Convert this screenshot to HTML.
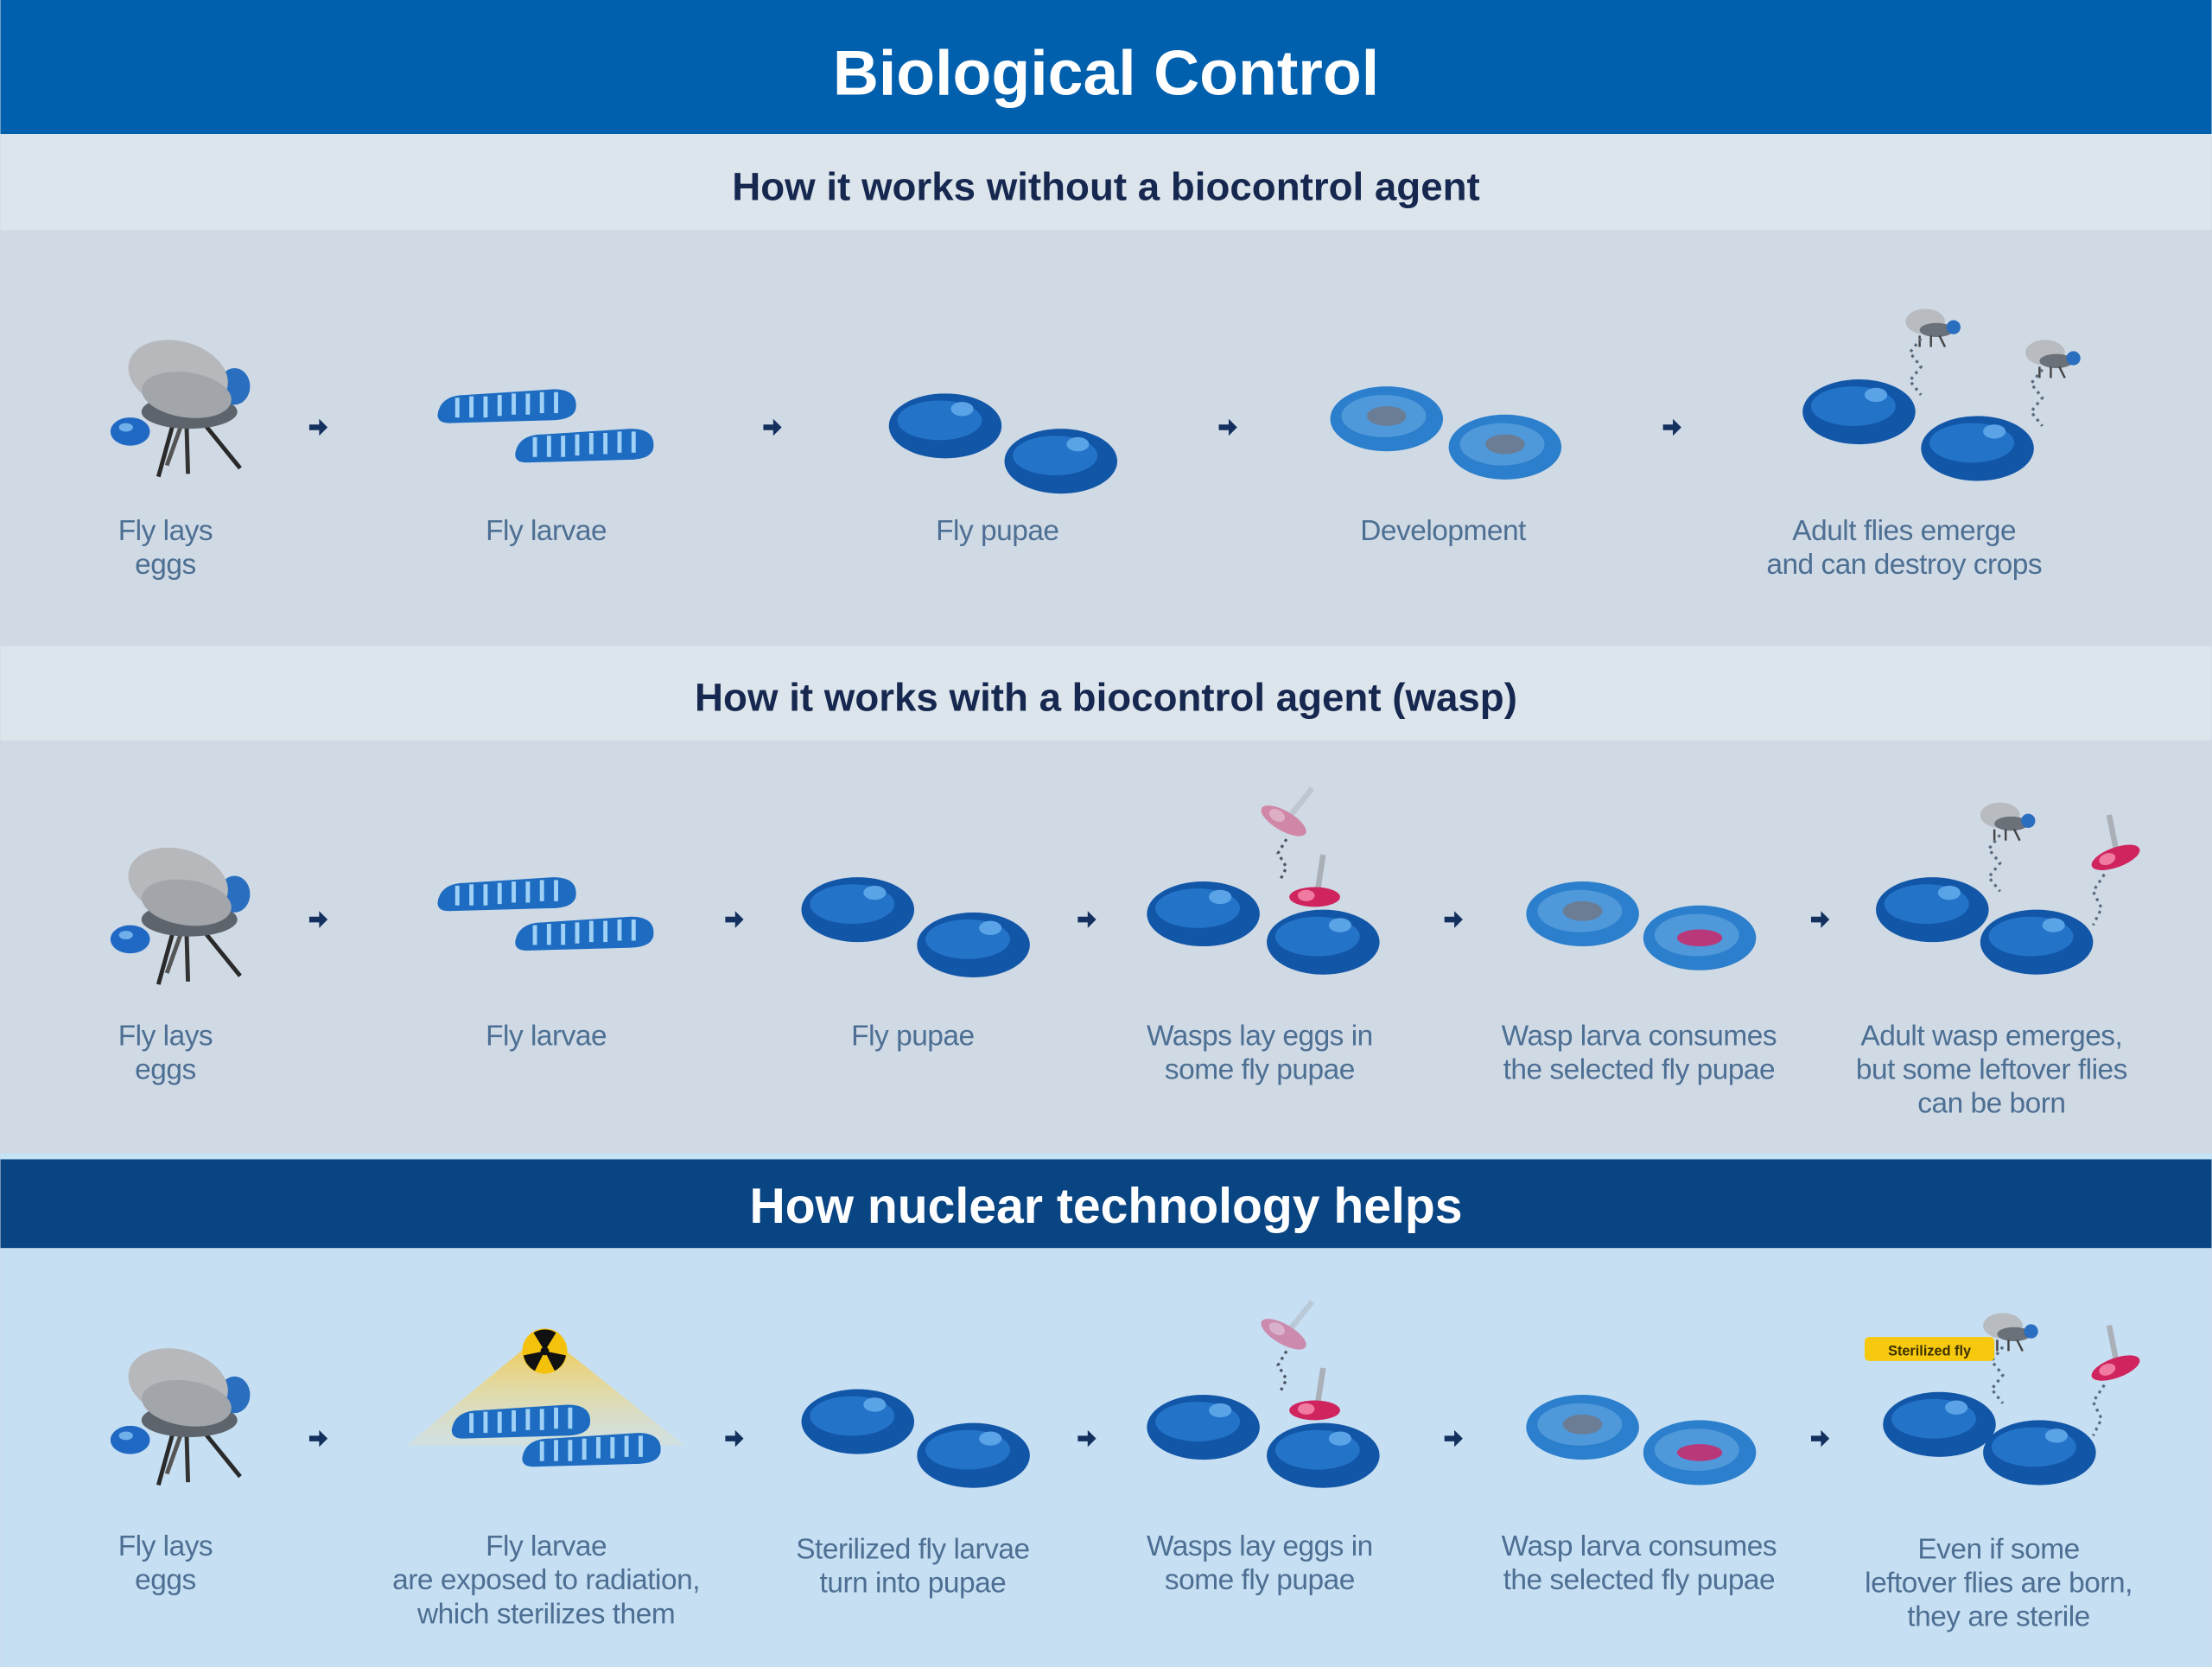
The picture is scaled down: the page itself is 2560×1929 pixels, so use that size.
<!DOCTYPE html>
<html><head><meta charset="utf-8"><style>
html,body{margin:0;padding:0;width:2560px;height:1929px;overflow:hidden;background:#d0dae5}
svg{display:block}
text{font-family:"Liberation Sans",sans-serif}
.lab{font-size:20.5px;fill:#4d6f93;text-anchor:middle;letter-spacing:-0.3px}
.sub{font-size:28px;font-weight:bold;fill:#16284f;text-anchor:middle}
</style></head><body>
<svg width="2560" height="1929" viewBox="0 0 1568 1182" xmlns="http://www.w3.org/2000/svg">
<defs>
<linearGradient id="rad" x1="0" y1="0" x2="0" y2="1"><stop offset="0" stop-color="#f5c638" stop-opacity="0.95"/><stop offset="1" stop-color="#f5e3a0" stop-opacity="0.2"/></linearGradient>
<g id="fly">
 <line x1="-8" y1="12" x2="-18" y2="48" stroke="#2a2a2a" stroke-width="3"/>
 <line x1="2" y1="12" x2="3" y2="46" stroke="#333" stroke-width="3"/>
 <line x1="14" y1="10" x2="40" y2="42" stroke="#2a2a2a" stroke-width="3"/>
 <line x1="-2" y1="12" x2="-12" y2="40" stroke="#555" stroke-width="3"/>
 <ellipse cx="4" cy="2" rx="34" ry="12" fill="#5d646c"/>
 <ellipse cx="36" cy="-16" rx="11" ry="13" fill="#2a6fbf"/>
 <ellipse cx="-4" cy="-24" rx="36" ry="24" fill="#b6b8bb" transform="rotate(15 -4 -24)"/>
 <ellipse cx="2" cy="-10" rx="32" ry="16" fill="#a2a5aa" transform="rotate(8 2 -10)"/>
 <ellipse cx="-38" cy="16" rx="14" ry="10" fill="#1f68c4"/>
 <ellipse cx="-41" cy="13" rx="5" ry="3" fill="#6fb0ea"/>
</g>
<g id="larva">
 <path d="M0 18 Q2 4 20 4 L82 0 Q100 0 98 14 Q96 22 80 22 L8 24 Q0 24 0 18Z" fill="#1d6cc2"/>
 <path d="M14 6v14M24 5v15M34 5v15M44 4v15M54 3v15M64 3v15M74 2v15M84 2v15" stroke="#9fd0f5" stroke-width="3"/>
</g>
<g id="pupa"><ellipse cx="0" cy="0" rx="40" ry="23" fill="#1256a8"/><ellipse cx="-4" cy="-4" rx="30" ry="14" fill="#2374c9"/><ellipse cx="12" cy="-12" rx="8" ry="5" fill="#5aa3e6"/></g>
<g id="pupaL"><ellipse cx="0" cy="0" rx="40" ry="23" fill="#2b7fcc"/><ellipse cx="-2" cy="-2" rx="30" ry="15" fill="#4f98da"/><ellipse cx="0" cy="-2" rx="14" ry="7" fill="#6a7d95"/></g>
<g id="pupaW"><ellipse cx="0" cy="0" rx="40" ry="23" fill="#2b7fcc"/><ellipse cx="-2" cy="-2" rx="30" ry="15" fill="#4f98da"/><ellipse cx="0" cy="0" rx="16" ry="6" fill="#b8387a"/></g>
<g id="mini"><ellipse cx="0" cy="0" rx="14" ry="9" fill="#b8bbbf"/><ellipse cx="8" cy="6" rx="12" ry="5" fill="#6b7178"/><circle cx="20" cy="4" r="5" fill="#2a6fbf"/><path d="M-4 10v8M4 10v8M10 10l4 8" stroke="#444" stroke-width="1.5"/></g>
<g id="wasp"><path d="M6 -30 L2 -4" stroke="#aab0b8" stroke-width="4"/><ellipse cx="0" cy="0" rx="18" ry="7" fill="#d0245e"/><ellipse cx="-6" cy="-1" rx="6" ry="4" fill="#f07aa0"/></g>
<g id="arr"><path d="M-6 -2h7v-4l6 6-6 6v-4h-7z" fill="#14305e"/></g>
</defs>

<rect x="0" y="0" width="1568" height="95" fill="#0060ae"/>
<rect x="0" y="95" width="1568" height="68" fill="#dde5ec"/>
<rect x="0" y="163" width="1568" height="295" fill="#d0dae5"/>
<rect x="0" y="458" width="1568" height="67" fill="#dde5ec"/>
<rect x="0" y="525" width="1568" height="293" fill="#d0dae5"/>
<rect x="0" y="818" width="1568" height="4" fill="#c4e4f8"/>
<rect x="0" y="822" width="1568" height="63" fill="#0a4583"/>
<rect x="0" y="885" width="1568" height="297" fill="#c7dff2"/>

<text x="784" y="67" text-anchor="middle" font-size="45" font-weight="bold" fill="#ffffff">Biological Control</text>
<text x="784" y="142" class="sub">How it works without a biocontrol agent</text>
<text x="784" y="504" class="sub">How it works with a biocontrol agent (wasp)</text>
<text x="784" y="867" text-anchor="middle" font-size="35" font-weight="bold" fill="#ffffff">How nuclear technology helps</text>

<!-- Row 1 -->
<use href="#fly" x="130" y="290"/>
<use href="#arr" x="225" y="303"/>
<use href="#larva" x="310" y="276"/>
<use href="#larva" x="365" y="304"/>
<use href="#arr" x="547" y="303"/>
<use href="#pupa" x="670" y="302"/>
<use href="#pupa" x="752" y="327"/>
<use href="#arr" x="870" y="303"/>
<use href="#pupaL" x="983" y="297"/>
<use href="#pupaL" x="1067" y="317"/>
<use href="#arr" x="1185" y="303"/>
<use href="#pupa" x="1318" y="292"/>
<use href="#pupa" x="1402" y="318"/>
<use href="#mini" x="1365" y="228"/>
<use href="#mini" x="1450" y="250"/>
<path d="M1362 240 l-8 10 8 10 -8 10 8 10" stroke="#5a6a7e" stroke-width="2" stroke-dasharray="2 3" fill="none"/>
<path d="M1448 262 l-8 10 8 10 -8 10 8 10" stroke="#5a6a7e" stroke-width="2" stroke-dasharray="2 3" fill="none"/>
<text class="lab" x="117" y="383">Fly lays</text><text class="lab" x="117" y="407">eggs</text>
<text class="lab" x="387" y="383">Fly larvae</text>
<text class="lab" x="707" y="383">Fly pupae</text>
<text class="lab" x="1023" y="383">Development</text>
<text class="lab" x="1350" y="383">Adult flies emerge</text><text class="lab" x="1350" y="407">and can destroy crops</text>

<!-- Row 2 -->
<use href="#fly" x="130" y="650"/>
<use href="#arr" x="225" y="652"/>
<use href="#larva" x="310" y="622"/>
<use href="#larva" x="365" y="650"/>
<use href="#arr" x="520" y="652"/>
<use href="#pupa" x="608" y="645"/>
<use href="#pupa" x="690" y="670"/>
<use href="#arr" x="770" y="652"/>
<use href="#pupa" x="853" y="648"/>
<use href="#pupa" x="938" y="668"/>
<use href="#wasp" x="932" y="636"/>
<g opacity="0.45"><use href="#wasp" x="910" y="582" transform="rotate(30 910 582)"/></g>
<path d="M912 595 l-6 10 6 10 -4 8" stroke="#4a5565" stroke-width="2" stroke-dasharray="2 3" fill="none"/>
<use href="#arr" x="1030" y="652"/>
<use href="#pupaL" x="1122" y="648"/>
<use href="#pupaW" x="1205" y="665"/>
<use href="#arr" x="1290" y="652"/>
<use href="#pupa" x="1370" y="645"/>
<use href="#pupa" x="1444" y="668"/>
<use href="#mini" x="1418" y="578"/>
<use href="#wasp" x="1500" y="608" transform="rotate(-20 1500 608)"/>
<path d="M1418 592 l-8 10 8 10 -8 10 8 10" stroke="#5a6a7e" stroke-width="2" stroke-dasharray="2 3" fill="none"/>
<path d="M1492 620 l-8 12 6 12 -6 12" stroke="#5a6a7e" stroke-width="2" stroke-dasharray="2 3" fill="none"/>
<text class="lab" x="117" y="741">Fly lays</text><text class="lab" x="117" y="765">eggs</text>
<text class="lab" x="387" y="741">Fly larvae</text>
<text class="lab" x="647" y="741">Fly pupae</text>
<text class="lab" x="893" y="741">Wasps lay eggs in</text><text class="lab" x="893" y="765">some fly pupae</text>
<text class="lab" x="1162" y="741">Wasp larva consumes</text><text class="lab" x="1162" y="765">the selected fly pupae</text>
<text class="lab" x="1412" y="741">Adult wasp emerges,</text><text class="lab" x="1412" y="765">but some leftover flies</text><text class="lab" x="1412" y="789">can be born</text>

<!-- Row 3 -->
<use href="#fly" x="130" y="1005"/>
<use href="#arr" x="225" y="1020"/>
<path d="M385 945 L485 1025 L288 1025 Z" fill="url(#rad)"/>
<circle cx="386" cy="958" r="16" fill="#f4c20d"/>
<circle cx="386" cy="958" r="3" fill="#111"/>
<path d="M386 958 L378 945 A15 15 0 0 1 394 945Z M386 958 L401 961 A15 15 0 0 1 393 972Z M386 958 L379 972 A15 15 0 0 1 371 961Z" fill="#111"/>
<use href="#larva" x="320" y="996"/>
<use href="#larva" x="370" y="1016"/>
<use href="#arr" x="520" y="1020"/>
<use href="#pupa" x="608" y="1008"/>
<use href="#pupa" x="690" y="1032"/>
<use href="#arr" x="770" y="1020"/>
<use href="#pupa" x="853" y="1012"/>
<use href="#pupa" x="938" y="1032"/>
<use href="#wasp" x="932" y="1000"/>
<g opacity="0.45"><use href="#wasp" x="910" y="946" transform="rotate(30 910 946)"/></g>
<path d="M912 958 l-6 10 6 10 -4 8" stroke="#4a5565" stroke-width="2" stroke-dasharray="2 3" fill="none"/>
<use href="#arr" x="1030" y="1020"/>
<use href="#pupaL" x="1122" y="1012"/>
<use href="#pupaW" x="1205" y="1030"/>
<use href="#arr" x="1290" y="1020"/>
<use href="#pupa" x="1375" y="1010"/>
<use href="#pupa" x="1446" y="1030"/>
<use href="#mini" x="1420" y="940"/>
<use href="#wasp" x="1500" y="970" transform="rotate(-20 1500 970)"/>
<path d="M1420 955 l-8 10 8 10 -8 10 8 10" stroke="#5a6a7e" stroke-width="2" stroke-dasharray="2 3" fill="none"/>
<path d="M1492 982 l-8 12 6 12 -6 12" stroke="#5a6a7e" stroke-width="2" stroke-dasharray="2 3" fill="none"/>
<rect x="1322" y="948" width="92" height="17" rx="3" fill="#f6c90e"/>
<text x="1368" y="961" text-anchor="middle" font-size="10" font-weight="bold" fill="#3a3000">Sterilized fly</text>
<text class="lab" x="117" y="1103">Fly lays</text><text class="lab" x="117" y="1127">eggs</text>
<text class="lab" x="387" y="1103">Fly larvae</text><text class="lab" x="387" y="1127">are exposed to radiation,</text><text class="lab" x="387" y="1151">which sterilizes them</text>
<text class="lab" x="647" y="1105">Sterilized fly larvae</text><text class="lab" x="647" y="1129">turn into pupae</text>
<text class="lab" x="893" y="1103">Wasps lay eggs in</text><text class="lab" x="893" y="1127">some fly pupae</text>
<text class="lab" x="1162" y="1103">Wasp larva consumes</text><text class="lab" x="1162" y="1127">the selected fly pupae</text>
<text class="lab" x="1417" y="1105">Even if some</text><text class="lab" x="1417" y="1129">leftover flies are born,</text><text class="lab" x="1417" y="1153">they are sterile</text>
</svg>
</body></html>
